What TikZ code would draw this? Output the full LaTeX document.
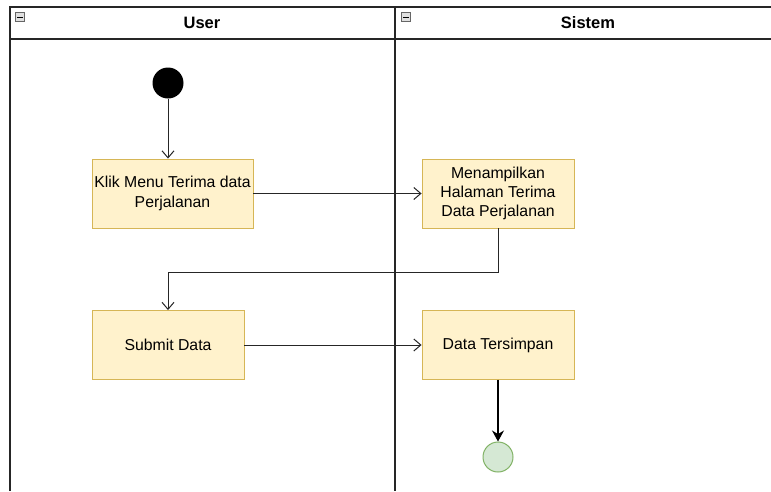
\documentclass[tikz,border=0pt]{standalone}
\usepackage{fontspec}
\setmainfont{Liberation Sans}
\usetikzlibrary{arrows.meta}
\begin{document}
\begin{tikzpicture}[x=1pt,y=-1pt,
  lane/.style={draw=black!85,line width=1.2pt},
  action/.style={draw=actionline,fill=actionfill,line width=0.9pt,
    minimum width=152pt,minimum height=69pt,align=center,inner sep=0pt,
    font=\fontsize{15.8}{19.2}\selectfont},
  flow/.style={draw=black!85,line width=1pt,-{Straight Barb[length=7pt,width=12pt]}},
  heading/.style={font=\bfseries\fontsize{16.5}{19}\selectfont},
  collapse/.style={draw=black!60,fill=black!12,line width=0.6pt,minimum size=9pt,inner sep=0pt}
]
\definecolor{actionfill}{HTML}{FFF2CC}
\definecolor{actionline}{HTML}{D6B656}
\definecolor{endfill}{HTML}{D5E8D4}
\definecolor{endline}{HTML}{82B366}

\useasboundingbox (0,0) rectangle (771,491);
\fill[white] (0,0) rectangle (771,491);

% swimlane frame
\draw[lane] (10,491) -- (10,7) -- (771,7);
\draw[lane] (10,39) -- (771,39);
\draw[lane] (395,7) -- (395,491);

% lane headings with collapse buttons
\node[heading] (huser) at (202,23) {User};
\node[heading] (hsys) at (588,23) {Sistem};
\node[collapse] (cuser) at (20,17) {};
\draw[line width=0.9pt] (17,17) -- (23,17);
\node[collapse] (csys) at (406,17) {};
\draw[line width=0.9pt] (403,17) -- (409,17);

% initial and final states
\node[circle,fill=black,minimum size=31pt,inner sep=0pt] (start) at (168,83) {};
\node[circle,draw=endline,fill=endfill,line width=1pt,minimum size=30pt,inner sep=0pt] (finish) at (498,457) {};

% actions
\node[action,minimum width=161pt] (klik) at (172.5,193.5) {Klik Menu Terima data\\Perjalanan};
\node[action] (tampil) at (498,193.5) {Menampilkan\\Halaman Terima\\Data Perjalanan};
\node[action] (submit) at (168,345) {Submit Data};
\node[action] (simpan) at (498,345) {Data Tersimpan};

% control flow
\draw[flow] (start) -- (start |- klik.north);
\draw[flow] (klik) -- (tampil);
\coordinate (bendR) at (498,272);
\coordinate (bendL) at (168,272);
\draw[flow] (tampil.south) -- (bendR) -- (bendL) -- (submit.north);
\draw[flow] (submit) -- (simpan);
\draw[draw=black,line width=1.2pt,-{Stealth[length=11pt,width=12pt]}] (simpan) -- (finish);
\end{tikzpicture}
\end{document}
